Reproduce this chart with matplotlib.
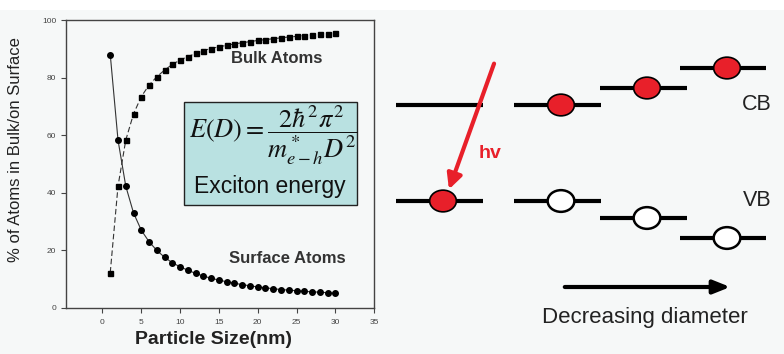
import matplotlib
matplotlib.use('Agg')
import matplotlib.pyplot as plt
from matplotlib.patches import Rectangle, Ellipse

plt.rcParams['font.family'] = ['Liberation Sans', 'DejaVu Sans']
plt.rcParams['mathtext.fontset'] = 'stix'

# particle size (nm) and share of atoms (%)
size_nm = list(range(1, 31))
surface_pct = [88, 58.3, 42.3, 33, 27, 23, 20, 17.6, 15.7, 14.3, 13.1, 12.0, 11.1, 10.3, 9.7,
               9.1, 8.6, 8.1, 7.7, 7.3, 7.0, 6.7, 6.4, 6.2, 6.0, 5.8, 5.6, 5.5, 5.3, 5.1]
bulk_pct = [12.3, 42.3, 58.3, 67.4, 73.4, 77.4, 80.3, 82.6, 84.6, 86.1, 87.3, 88.4, 89.4, 90.1, 90.7,
            91.2, 91.7, 92.1, 92.5, 92.9, 93.2, 93.5, 93.8, 94.1, 94.3, 94.6, 94.8, 95.0, 95.2, 95.4]
x_ticks = [0, 5, 10, 15, 20, 25, 30, 35]
y_ticks = [0, 20, 40, 60, 80, 100]

# band diagram (figure pixels): one group per particle size
level_left = [396, 514, 600, 680]
level_right = [483, 601, 687, 766]
cb_level = [105, 105, 88, 68]
vb_level = [201, 201, 218, 238]
carrier_x = [443, 561, 647, 727]

fig = plt.figure(figsize=(7.84, 3.54), dpi=100, facecolor='#f6f8f8')
fig.patches.append(Rectangle((0, 0.972), 1, 0.03, transform=fig.transFigure,
                             facecolor='white', edgecolor='none', zorder=0))

# ---- left: atoms on surface vs bulk ----
ax = fig.add_axes([0.0842, 0.130, 0.393, 0.8135])
ax.set_facecolor('#f6f8f8')
ax.plot(size_nm, surface_pct, color='#333333', lw=0.8, marker='o', ms=4,
        mfc='black', mec='black', zorder=3)
ax.plot(size_nm, bulk_pct, color='#333333', lw=0.8, ls=(0, (5, 2.5)), marker='s', ms=3.6,
        mfc='black', mec='black', zorder=3)
ax.set_xlim(-4.7, 35)
ax.set_ylim(0, 100)
ax.set_xticks(x_ticks)
ax.set_yticks(y_ticks)
ax.tick_params(axis='both', labelsize=6, colors='#444444', length=3.5, width=0.8)
ax.tick_params(axis='x', pad=4.5)
for s in ax.spines.values():
    s.set_color('#444444')
    s.set_linewidth(1.0)
ax.set_ylabel('% of Atoms in Bulk/on Surface', fontsize=12, color='#222222')
ax.yaxis.set_label_coords(-0.14, 0.55)
ax.set_xlabel('Particle Size(nm)', fontsize=14, fontweight='bold', color='#222222')
ax.xaxis.set_label_coords(0.48, -0.08)
ax.text(22.5, 86.5, 'Bulk Atoms', fontsize=12, fontweight='bold', color='#333333',
        ha='center', va='center')
ax.text(23.8, 17.3, 'Surface Atoms', fontsize=12, fontweight='bold', color='#333333',
        ha='center', va='center')

ax.add_patch(Rectangle((10.5, 35.8), 22.3, 35.8, facecolor='#b9e1e1', edgecolor='#222222',
                       lw=1.0, zorder=4))
ax.text(22.0, 60.0, r'$E(D)=\dfrac{2\hbar^2\pi^2}{m^*_{e-h}D^2}$', fontsize=19,
        ha='center', va='center', color='#111111', zorder=5)
ax.text(21.5, 42.2, 'Exciton energy', fontsize=16.5, ha='center', va='center',
        color='#111111', zorder=5)

# ---- right: band diagram ----
ax2 = fig.add_axes([0, 0, 1, 1])
ax2.set_xlim(0, 784)
ax2.set_ylim(354, 0)
ax2.axis('off')
ax2.patch.set_alpha(0)

ax2.hlines(cb_level, level_left, level_right, colors='black', lw=3)
ax2.hlines(vb_level, level_left, level_right, colors='black', lw=3)
for i, cx in enumerate(carrier_x):
    if i == 0:
        ax2.add_patch(Ellipse((cx, vb_level[i]), 26.7, 21.7, facecolor='#e8202a',
                              edgecolor='black', lw=1.2, zorder=4))
    else:
        ax2.add_patch(Ellipse((cx, cb_level[i]), 26.7, 21.7, facecolor='#e8202a',
                              edgecolor='black', lw=1.2, zorder=4))
        ax2.add_patch(Ellipse((cx, vb_level[i]), 26.7, 21.7, facecolor='white',
                              edgecolor='black', lw=1.8, zorder=4))

ax2.annotate('', xy=(448, 192), xytext=(495, 61),
             arrowprops=dict(arrowstyle='-|>,head_length=0.9,head_width=0.45',
                             color='#e8202a', lw=3), zorder=5)
ax2.text(490, 154, 'hv', fontsize=14, fontweight='bold', color='#e8202a',
         ha='center', va='center')
ax2.text(757, 105, 'CB', fontsize=15.5, color='#222222', ha='center', va='center')
ax2.text(757, 200, 'VB', fontsize=15.5, color='#222222', ha='center', va='center')
ax2.annotate('', xy=(733, 287), xytext=(562, 287),
             arrowprops=dict(arrowstyle='-|>,head_length=1.0,head_width=0.4',
                             color='black', lw=3))
ax2.text(645, 318, 'Decreasing diameter', fontsize=16, color='#222222',
         ha='center', va='center')

fig.savefig('out.png', dpi=100, facecolor=fig.get_facecolor())
